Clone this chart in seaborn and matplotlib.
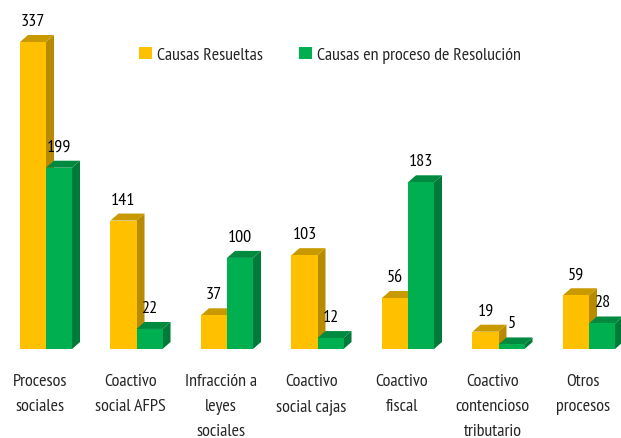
import matplotlib
matplotlib.use("Agg")
import matplotlib.pyplot as plt
import matplotlib.transforms as mtransforms
from matplotlib.patches import Polygon
import seaborn as sns
import pandas as pd

categories = ["Procesos\nsociales", "Coactivo\nsocial AFPS", "Infracción a\nleyes\nsociales",
              "Coactivo\nsocial cajas", "Coactivo\nfiscal", "Coactivo\ncontencioso\ntributario",
              "Otros\nprocesos"]
resueltas = [337, 141, 37, 103, 56, 19, 59]
en_proceso = [199, 22, 100, 12, 183, 5, 28]
series = ["Causas Resueltas", "Causas en proceso de Resolución"]

front = {"Causas Resueltas": "#FFC000", "Causas en proceso de Resolución": "#00B050"}
side = {"Causas Resueltas": "#B88A00", "Causas en proceso de Resolución": "#007A38"}
top = {"Causas Resueltas": "#C99A00", "Causas en proceso de Resolución": "#008A40"}

df = pd.DataFrame({
    "cat": categories * 2,
    "val": resueltas + en_proceso,
    "serie": [series[0]] * len(categories) + [series[1]] * len(categories),
})

sns.set_theme(style="white")
plt.rcParams["font.family"] = ["PT Sans Narrow", "Carlito", "DejaVu Sans"]
FS = 13

W, H = 621, 439
fig = plt.figure(figsize=(6.21, 4.39), dpi=100)
ax = fig.add_axes([0, 89 / H, 1, (H - 89) / H])

sns.barplot(data=df, x="cat", y="val", hue="serie", palette=front, width=0.575,
            saturation=1, ax=ax, legend=False, linewidth=0)

xmin, xmax = -46 / 90.5, (W - 46) / 90.5
ymax = 350 * 337 / 307
ax.set_xlim(xmin, xmax)
ax.set_ylim(0, ymax)

dx = 8 * (xmax - xmin) / W
dy = 7 * ymax / 350

bars = [p for p in ax.patches]
n = len(categories)
for i, p in enumerate(bars):
    s = series[0] if i < n else series[1]
    z = 2 if i < n else 4
    p.set_zorder(z + 0.5)
    x0, w, h = p.get_x(), p.get_width(), p.get_height()
    x1 = x0 + w
    sidepoly = Polygon([[x1, 0], [x1 + dx, dy], [x1 + dx, h + dy], [x1, h]],
                       closed=True, facecolor=side[s], edgecolor="none", zorder=z)
    toppoly = Polygon([[x0, h], [x0 + dx, h + dy], [x1 + dx, h + dy], [x1, h]],
                      closed=True, facecolor=top[s], edgecolor="none", zorder=z)
    ax.add_patch(sidepoly)
    ax.add_patch(toppoly)
    ax.annotate(f"{int(round(h))}", (x0 + w / 2, h), xytext=(0, 21), textcoords="offset pixels",
                ha="center", va="center", fontsize=FS, color="#000000", zorder=6)

for sp in ax.spines.values():
    sp.set_visible(False)
ax.set_yticks([])
ax.set_xlabel("")
ax.set_ylabel("")
ax.tick_params(axis="x", length=0, pad=17.5, labelsize=FS)
ax.set_xticks(range(n))
ax.set_xticklabels(categories, linespacing=1.75, va="top")
offset = mtransforms.ScaledTranslation(-6 / 100, 0, fig.dpi_scale_trans)
for lab in ax.get_xticklabels():
    lab.set_transform(lab.get_transform() + offset)

handles = [plt.Rectangle((0, 0), 1, 1, facecolor=front[s], edgecolor="none") for s in series]
leg = ax.legend(handles, series, ncol=2, frameon=False, loc="center",
                bbox_to_anchor=(330 / W, 1 - (56) / 350), fontsize=FS,
                handlelength=0.7, handleheight=0.7, handletextpad=0.3, columnspacing=2.0)

fig.savefig("out.png", dpi=100)
